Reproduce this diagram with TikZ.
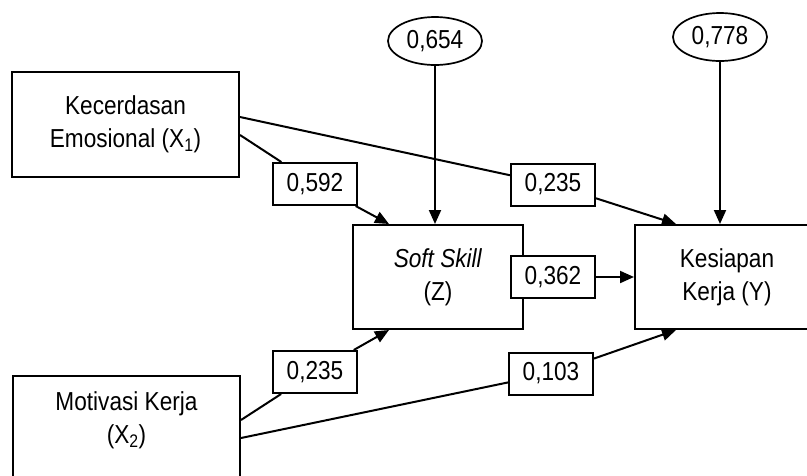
\documentclass[tikz,border=0pt]{standalone}
\usepackage{fontspec}
\setmainfont{Liberation Sans}[FakeStretch=0.87]
\usetikzlibrary{arrows.meta,shapes.geometric,calc}
\begin{document}
\begin{tikzpicture}[x=1pt,y=-1pt,
  every node/.style={font=\fontsize{26}{33}\selectfont},
  box/.style={draw,line width=2pt,rectangle,align=center,inner sep=0pt},
  val/.style={draw,line width=2pt,fill=white,minimum width=84pt,minimum height=42pt,inner sep=0pt},
  err/.style={draw,line width=1.7pt,ellipse,minimum width=94pt,minimum height=48pt,inner sep=0pt},
  link/.style={line width=2pt},
  arr/.style={line width=2pt,-{Triangle[length=14pt,width=12pt]}}]
\clip (0,0) rectangle (807,475);
\fill[white] (0,0) rectangle (807,475);
\node[box,minimum width=227pt,minimum height=105pt] (x1) at (125.5,124.5) {Kecerdasan\\Emosional (X\textsubscript{1})};
\node[box,minimum width=227pt,minimum height=130pt,anchor=north west,
  label={[align=center,anchor=north,inner sep=0pt,yshift=-16pt]north:{Motivasi Kerja\\(X\textsubscript{2})}}] (x2) at (12,375) {};
\node[box,minimum width=170pt,minimum height=104pt] (z) at (438,277) {\textit{Soft Skill}\\(Z)};
\node[box,minimum width=184pt,minimum height=104pt] (y) at (727,277) {Kesiapan\\Kerja (Y)};
\node[err] (e1) at (435,41) {0,654};
\node[err] (e2) at (720,37) {0,778};
\node[val] (l592) at (315,184) {0,592};
\node[val] (l235a) at (553,184.5) {0,235};
\node[val] (l362) at (553,277) {0,362};
\node[val] (l235b) at (315,372) {0,235};
\node[val] (l103) at (551,373.5) {0,103};
\draw[link] ([yshift=-10.5pt]x1.east) -- (l592);
\draw[arr] (l592) -- ([xshift=37pt]z.north west);
\draw[link] ([yshift=7.5pt]x1.east) -- (l235a);
\draw[arr] (l235a) -- ([xshift=42pt]y.north west);
\draw[arr] (l362) -- (y.west);
\draw[link] ([yshift=-45pt]x2.north east) -- (l235b);
\draw[arr] (l235b) -- ([xshift=37pt]z.south west);
\draw[link] ([yshift=-63pt]x2.north east) -- (l103);
\draw[arr] (l103) -- ([xshift=42pt]y.south west);
\draw[arr] (e1) -- (e1 |- z.north);
\draw[arr] (e2) -- (e2 |- y.north);
\end{tikzpicture}
\end{document}
